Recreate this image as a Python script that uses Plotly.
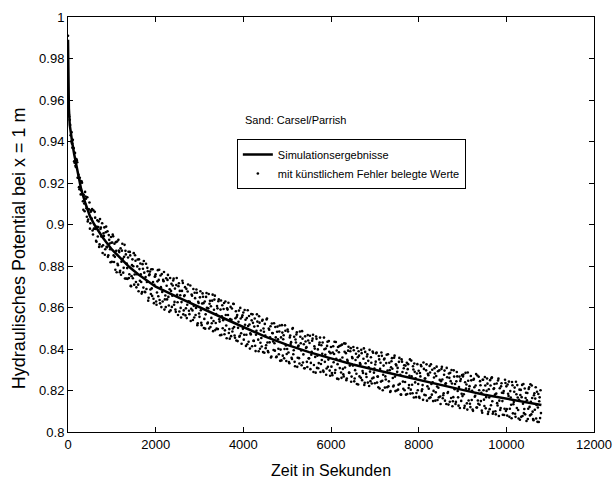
import plotly.graph_objects as go

# Simulation curve (time in s, hydraulic potential)
sim_t = [0, 5, 10, 20, 40, 60, 100, 140, 200, 300, 400, 500, 600, 800, 1000, 1200, 1400,
         1600, 1800, 2000, 2500, 3000, 3500, 4000, 4500, 5000, 5500, 6000, 6500, 7000,
         7500, 8000, 8500, 9000, 9500, 10000, 10500, 10800]
sim_h = [0.989, 0.972, 0.962, 0.956, 0.948, 0.944, 0.939, 0.934, 0.927, 0.917, 0.910,
         0.904, 0.900, 0.8935, 0.888, 0.8835, 0.8795, 0.876, 0.8728, 0.870, 0.865, 0.860,
         0.8553, 0.8506, 0.846, 0.842, 0.8385, 0.8355, 0.8325, 0.830, 0.8275, 0.825,
         0.8225, 0.8203, 0.818, 0.816, 0.8142, 0.813]

# Noisy "measured" values (units of 1e-4), series A at t = 0, 20, 40, ...
sample_step = 20
meas_a_raw = [
    9910, 9530, 9505, 9430, 9445, 9370, 9370, 9305, 9345, 9277, 9310, 9225, 9240, 9170, 9210, 9165, 9201, 9112, 9143, 9064, 9135, 9078, 9131, 9024, 9072, 8980, 9062, 9029, 8971, 9068, 8980, 9033, 8921, 8989, 8942, 9015, 8904, 8978, 8942, 9006, 8900, 8944, 8854, 8963, 8893, 8967, 8852, 8926, 8881, 8940,
    8820, 8951, 8851, 8907, 8782, 8873, 8918, 8804, 8874, 8770, 8885, 8821, 8907, 8768, 8844, 8740, 8856, 8812, 8738, 8869, 8760, 8851, 8703, 8804, 8741, 8862, 8759, 8825, 8697, 8798, 8710, 8832, 8729, 8760, 8667, 8809, 8696, 8768, 8674, 8811, 8723, 8775, 8647, 8760, 8687, 8784, 8656, 8723, 8621, 8748,
    8760, 8613, 8726, 8654, 8782, 8620, 8698, 8761, 8629, 8727, 8590, 8658, 8741, 8639, 8757, 8610, 8688, 8586, 8714, 8657, 8730, 8613, 8691, 8579, 8742, 8625, 8703, 8581, 8659, 8552, 8680, 8718, 8586, 8659, 8562, 8690, 8613, 8711, 8584, 8627, 8535, 8663, 8586, 8689, 8552, 8645, 8598, 8671, 8524, 8622,
    8555, 8678, 8526, 8619, 8652, 8501, 8629, 8567, 8670, 8523, 8596, 8499, 8632, 8606, 8524, 8662, 8535, 8638, 8491, 8569, 8607, 8496, 8639, 8532, 8590, 8468, 8611, 8539, 8622, 8490, 8564, 8452, 8590, 8623, 8496, 8544, 8462, 8595, 8499, 8617, 8465, 8548, 8441, 8564, 8502, 8585, 8464, 8547, 8425, 8563,
    8576, 8469, 8517, 8415, 8549, 8587, 8435, 8518, 8476, 8569, 8413, 8526, 8439, 8547, 8390, 8488, 8532, 8445, 8558, 8401, 8489, 8412, 8541, 8499, 8382, 8465, 8418, 8547, 8390, 8499, 8432, 8510, 8364, 8477, 8436, 8524, 8392, 8456, 8364, 8508, 8401, 8484, 8343, 8456, 8515, 8368, 8466, 8400, 8488, 8342,
    8400, 8484, 8337, 8456, 8424, 8358, 8497, 8375, 8459, 8317, 8431, 8480, 8358, 8417, 8330, 8459, 8393, 8486, 8335, 8423, 8307, 8436, 8409, 8313, 8441, 8355, 8464, 8333, 8386, 8450, 8289, 8413, 8362, 8460, 8309, 8398, 8332, 8431, 8289, 8418, 8377, 8296, 8455, 8338, 8402, 8306, 8435, 8349, 8387, 8271,
    8410, 8284, 8383, 8336, 8435, 8299, 8353, 8257, 8410, 8384, 8308, 8417, 8261, 8359, 8278, 8427, 8311, 8380, 8258, 8342, 8411, 8285, 8389, 8242, 8361, 8320, 8394, 8258, 8347, 8281, 8405, 8229, 8368, 8332, 8261, 8380, 8294, 8353, 8227, 8386, 8280, 8364, 8238, 8312, 8396, 8245, 8334, 8258, 8382, 8286,
    8235, 8339, 8383, 8267, 8216, 8350, 8304, 8243, 8367, 8201, 8320, 8354, 8268, 8332, 8216, 8375, 8244, 8298, 8197, 8341, 8305, 8219, 8358, 8267, 8326, 8200, 8309, 8228, 8357, 8276, 8180, 8339, 8243, 8307, 8201, 8320, 8284, 8183, 8327, 8226, 8350, 8204, 8268, 8187, 8301, 8330, 8239, 8168, 8282, 8201,
    8295, 8164, 8268, 8317, 8206, 8155, 8304, 8258, 8177, 8326, 8220, 8274, 8163, 8287, 8326, 8180, 8239, 8198, 8307, 8151, 8270, 8219, 8293, 8167, 8251, 8135, 8304, 8253, 8177, 8276, 8151, 8235, 8309, 8188, 8132, 8261, 8285, 8164, 8234, 8148, 8297, 8206, 8135, 8244, 8268, 8167, 8217, 8116, 8255, 8184,
    8173, 8277, 8116, 8240, 8209, 8138, 8287, 8152, 8221, 8120, 8249, 8198, 8102, 8256, 8170, 8224, 8118, 8272, 8136, 8201, 8245, 8149, 8103, 8252, 8201, 8125, 8224, 8168, 8258, 8087, 8206, 8110, 8224, 8259, 8148, 8097, 8211, 8180, 8085, 8234, 8128, 8257, 8151, 8106, 8220, 8189, 8083, 8197, 8112, 8236,
    8220, 8079, 8184, 8243, 8112, 8166, 8066, 8225, 8134, 8194, 8088, 8242, 8116, 8166, 8065, 8204, 8178, 8073, 8227, 8136, 8091, 8210, 8164, 8053, 8188, 8112, 8216, 8080, 8145, 8224, 8098, 8057, 8187, 8161, 8065, 8194, 8118, 8048, 8167, 8201,
]
# series B at t = 10, 30, 50, ...
meas_b_raw = [
    9605, 9520, 9480, 9400, 9390, 9408, 9367, 9298, 9283, 9316, 9300, 9225, 9180, 9225, 9145, 9208, 9145, 9071, 9101, 9157, 9124, 9037, 9015, 9073, 9106, 9006, 9068, 9075, 8952, 8979, 9061, 8979, 8917, 9020, 8988, 8892, 9026, 8985, 8894, 8863, 8957, 8986, 8881, 8990, 8890, 8844, 8949, 8908, 8818, 8912,
    8913, 8943, 8819, 8844, 8915, 8770, 8811, 8926, 8867, 8777, 8758, 8874, 8835, 8791, 8902, 8873, 8739, 8790, 8841, 8742, 8868, 8704, 8751, 8832, 8799, 8710, 8852, 8723, 8760, 8831, 8678, 8785, 8812, 8723, 8675, 8787, 8824, 8676, 8747, 8689, 8791, 8633, 8756, 8773, 8665, 8692, 8784, 8642, 8709, 8751,
    8629, 8672, 8780, 8733, 8636, 8754, 8602, 8675, 8733, 8771, 8639, 8602, 8705, 8733, 8651, 8579, 8742, 8680, 8603, 8706, 8739, 8627, 8590, 8708, 8661, 8564, 8717, 8680, 8598, 8626, 8729, 8567, 8655, 8698, 8596, 8549, 8677, 8630, 8568, 8706, 8594, 8657, 8540, 8608, 8671, 8564, 8687, 8515, 8628, 8571,
    8649, 8587, 8515, 8668, 8621, 8545, 8498, 8651, 8599, 8527, 8665, 8618, 8506, 8550, 8633, 8486, 8589, 8657, 8525, 8498, 8596, 8630, 8543, 8466, 8634, 8557, 8500, 8593, 8471, 8629, 8513, 8596, 8564, 8477, 8450, 8603, 8541, 8484, 8618, 8506, 8454, 8582, 8555, 8438, 8531, 8459, 8598, 8476, 8554, 8497,
    8445, 8588, 8541, 8469, 8423, 8511, 8559, 8402, 8470, 8538, 8567, 8440, 8508, 8416, 8469, 8567, 8511, 8389, 8527, 8430, 8453, 8536, 8385, 8483, 8521, 8404, 8542, 8431, 8384, 8493, 8456, 8359, 8523, 8476, 8395, 8428, 8506, 8360, 8483, 8447, 8375, 8513, 8397, 8345, 8479, 8447, 8355, 8514, 8417, 8376,
    8494, 8383, 8331, 8465, 8433, 8352, 8501, 8394, 8338, 8446, 8470, 8314, 8412, 8356, 8484, 8428, 8322, 8450, 8374, 8307, 8461, 8405, 8338, 8467, 8355, 8429, 8303, 8372, 8440, 8469, 8323, 8402, 8286, 8449, 8368, 8307, 8421, 8455, 8328, 8347, 8431, 8290, 8399, 8372, 8276, 8415, 8314, 8438, 8296, 8380,
    8315, 8274, 8413, 8376, 8285, 8434, 8393, 8327, 8255, 8414, 8348, 8287, 8421, 8304, 8268, 8387, 8426, 8250, 8348, 8392, 8286, 8320, 8404, 8267, 8356, 8410, 8244, 8298, 8377, 8231, 8360, 8389, 8268, 8327, 8396, 8250, 8284, 8403, 8237, 8331, 8265, 8374, 8343, 8222, 8291, 8360, 8234, 8388, 8262, 8306,
    8325, 8379, 8238, 8267, 8366, 8210, 8334, 8383, 8247, 8276, 8350, 8214, 8253, 8372, 8296, 8220, 8334, 8193, 8312, 8356, 8260, 8224, 8368, 8197, 8321, 8290, 8204, 8338, 8232, 8181, 8350, 8289, 8208, 8322, 8241, 8180, 8334, 8303, 8212, 8271, 8185, 8344, 8228, 8317, 8166, 8290, 8259, 8188, 8327, 8231,
    8170, 8284, 8323, 8197, 8226, 8335, 8179, 8258, 8297, 8151, 8280, 8209, 8318, 8167, 8231, 8300, 8149, 8263, 8282, 8191, 8315, 8154, 8213, 8297, 8171, 8245, 8314, 8163, 8187, 8296, 8231, 8135, 8264, 8193, 8282, 8146, 8245, 8299, 8124, 8168, 8267, 8231, 8145, 8289, 8198, 8127, 8267, 8246, 8150, 8274,
    8268, 8182, 8126, 8285, 8229, 8108, 8247, 8207, 8136, 8270, 8154, 8108, 8252, 8216, 8175, 8279, 8118, 8152, 8266, 8131, 8225, 8189, 8093, 8252, 8156, 8265, 8114, 8198, 8233, 8097, 8166, 8250, 8129, 8264, 8088, 8207, 8231, 8100, 8185, 8139, 8248, 8077, 8211, 8116, 8235, 8149, 8188, 8082, 8252, 8101,
    8110, 8229, 8174, 8073, 8197, 8131, 8241, 8090, 8144, 8214, 8073, 8182, 8226, 8106, 8155, 8059, 8203, 8168, 8077, 8231, 8111, 8085, 8189, 8153, 8063, 8207, 8121, 8230, 8085, 8164, 8063, 8177, 8107, 8216, 8130, 8049, 8183, 8148, 8067, 8091,
]
meas_t = ([i * sample_step for i in range(len(meas_a_raw))]
          + [i * sample_step + sample_step // 2 for i in range(len(meas_b_raw))])
meas_h = [v / 10000 for v in meas_a_raw + meas_b_raw]

x_ticks = [0, 2000, 4000, 6000, 8000, 10000, 12000]
y_ticks = [0.8, 0.82, 0.84, 0.86, 0.88, 0.9, 0.92, 0.94, 0.96, 0.98, 1.0]
y_tick_text = ["0.8", "0.82", "0.84", "0.86", "0.88", "0.9", "0.92", "0.94", "0.96", "0.98", "1"]

FONT = "Liberation Sans, Arial, sans-serif"

fig = go.Figure()
fig.add_trace(go.Scatter(
    x=meas_t, y=meas_h, mode="markers",
    marker=dict(color="black", size=2.6, line=dict(width=0)),
    name="mit künstlichem Fehler belegte Werte",
))
fig.add_trace(go.Scatter(
    x=sim_t, y=sim_h, mode="lines",
    line=dict(color="black", width=2.5),
    name="Simulationsergebnisse",
))

axis_common = dict(
    showgrid=False, zeroline=False, showline=True, linecolor="black", linewidth=1,
    mirror="ticks", ticks="inside", ticklen=5, tickcolor="black",
    tickfont=dict(family=FONT, size=13, color="black"),
)
fig.update_xaxes(range=[0, 12000], tickvals=x_ticks, ticktext=[str(v) for v in x_ticks],
                 title=dict(text="Zeit in Sekunden", font=dict(family=FONT, size=16, color="black"),
                            standoff=14),
                 **axis_common)
fig.update_yaxes(range=[0.8, 1.0], tickvals=y_ticks, ticktext=y_tick_text, **axis_common)

fig.add_annotation(text="Hydraulisches Potential bei x = 1 m", xref="paper", yref="paper",
                   x=0, y=0.443, xshift=-49, xanchor="center", yanchor="middle",
                   textangle=-90, showarrow=False,
                   font=dict(family=FONT, size=18, color="black"))

fig.add_annotation(text="Sand: Carsel/Parrish", xref="paper", yref="paper",
                   x=0.333, y=0.752, xanchor="left", yanchor="middle", showarrow=False,
                   font=dict(family=FONT, size=11, color="black"))

fig.update_layout(
    width=613, height=480,
    margin=dict(l=68, r=19, t=17, b=48, autoexpand=False),
    paper_bgcolor="white", plot_bgcolor="white",
    showlegend=True,
    legend=dict(x=0.321, y=0.706, xanchor="left", yanchor="top",
                bgcolor="white", bordercolor="black", borderwidth=1,
                font=dict(family=FONT, size=11, color="black"),
                traceorder="reversed", tracegroupgap=0, itemwidth=30),
    font=dict(family=FONT),
)

fig.write_html("out.html")
